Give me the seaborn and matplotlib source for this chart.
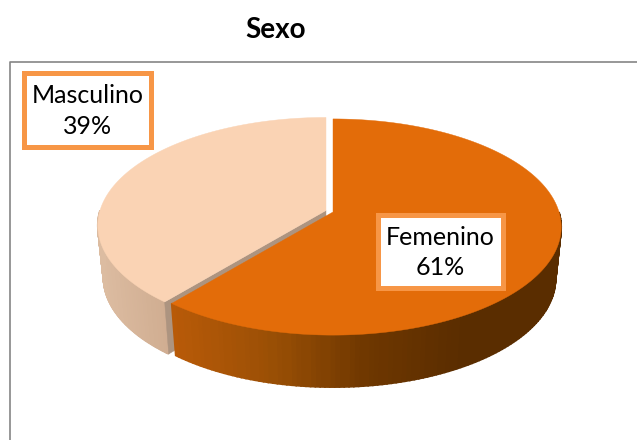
import numpy as np
import matplotlib
matplotlib.use('Agg')
import matplotlib.pyplot as plt
from matplotlib.patches import FancyBboxPatch
import seaborn as sns

# Data
categories = ['Femenino', 'Masculino']
shares = [61, 39]
title = 'Sexo'

sns.set_theme(style='white')
plt.rcParams['font.family'] = ['Lato', 'DejaVu Sans']

top_colors = ['#E36C09', '#FAD3B4']
fem_side = sns.blend_palette(['#B85A08', '#9A4F05', '#6E3700', '#5A2D00', '#5A2D00'], 60)
masc_side = sns.blend_palette(['#DCBCA1', '#D0AD91'], 30)
cut_color = '#AD9480'
border = '#F79646'


def project(theta, cx, cy, r=1.0, drop=0.0):
    # theta is clockwise from 12 o'clock, perspective squeezes the far side
    u = r * np.sin(theta)
    v = r * np.cos(theta)
    s = 1 / (1 + 0.139 * v)
    x = 226 * u * s
    y = -106 * v * s
    if drop:
        x = x * 0.975
    return cx + x, cy + y + drop


def slice_top(ax, a0, a1, cx, cy, color, z):
    t = np.linspace(a0, a1, 200)
    x, y = project(t, cx, cy)
    ax.fill(np.r_[cx, x], np.r_[cy, y], color=color, lw=0.3, zorder=z)


def slice_wall(ax, a0, a1, cx, cy, colors, depth, z):
    # the wall is split in strips so the shade changes from left to right
    edges = np.linspace(a0, a1, 121)
    xs = project(edges, cx, cy)[0]
    for i in range(120):
        t = np.linspace(edges[i], edges[i + 1], 3)
        x0, y0 = project(t, cx, cy)
        x1, y1 = project(t[::-1], cx, cy, drop=depth)
        pos = (xs[i] - xs.min()) / (xs.max() - xs.min())
        c = colors[int(pos * (len(colors) - 1))]
        ax.fill(np.r_[x0, x1], np.r_[y0, y1], color=c, lw=1.2, zorder=z)


fig = plt.figure(figsize=(6.37, 4.40), dpi=100)
ax = fig.add_axes([0, 0, 1, 1])
ax.set_xlim(0, 637)
ax.set_ylim(440, 0)
ax.axis('off')

# frame runs off the right and bottom of the crop
ax.plot([9.5, 9.5, 637], [440, 62.5, 62.5], color='#858585', lw=1.2, zorder=1)

split = 2 * np.pi * shares[0] / sum(shares)
depth = 52
fem_c = (333, 212)
masc_c = (326, 210.5)

# Masculino goes first, it sits behind the other slice
slice_wall(ax, split, np.deg2rad(270), masc_c[0], masc_c[1], masc_side, depth, 2)
tx, ty = project(split, *masc_c)
bx0 = project(split, *masc_c, drop=depth)[0]
ax.fill([masc_c[0], tx, bx0, masc_c[0]],
        [masc_c[1], ty, ty + depth, masc_c[1] + depth], color=cut_color, lw=0.3, zorder=3)
slice_top(ax, split, 2 * np.pi, masc_c[0], masc_c[1], top_colors[1], 4)

slice_wall(ax, np.deg2rad(90), split, fem_c[0], fem_c[1], fem_side, depth, 5)
slice_top(ax, 0, split, fem_c[0], fem_c[1], top_colors[0], 6)

# labels
boxes = [(378, 215, 125, 73), (24, 73, 127, 74)]
for name, share, (bx, by, bw, bh) in zip(categories, shares, boxes):
    ax.add_patch(FancyBboxPatch((bx, by), bw, bh, boxstyle='square,pad=0', fc='white',
                                ec=border, lw=3.6, zorder=7))
    ax.text(bx + bw / 2, by + bh / 2 + 1, f'{name}\n{share}%', ha='center', va='center',
            fontsize=18, color='black', linespacing=1.4, zorder=8)

ax.text(276, 30, title, ha='center', va='center', fontsize=20, fontweight='bold', color='black')

fig.savefig('out.png', dpi=100)
